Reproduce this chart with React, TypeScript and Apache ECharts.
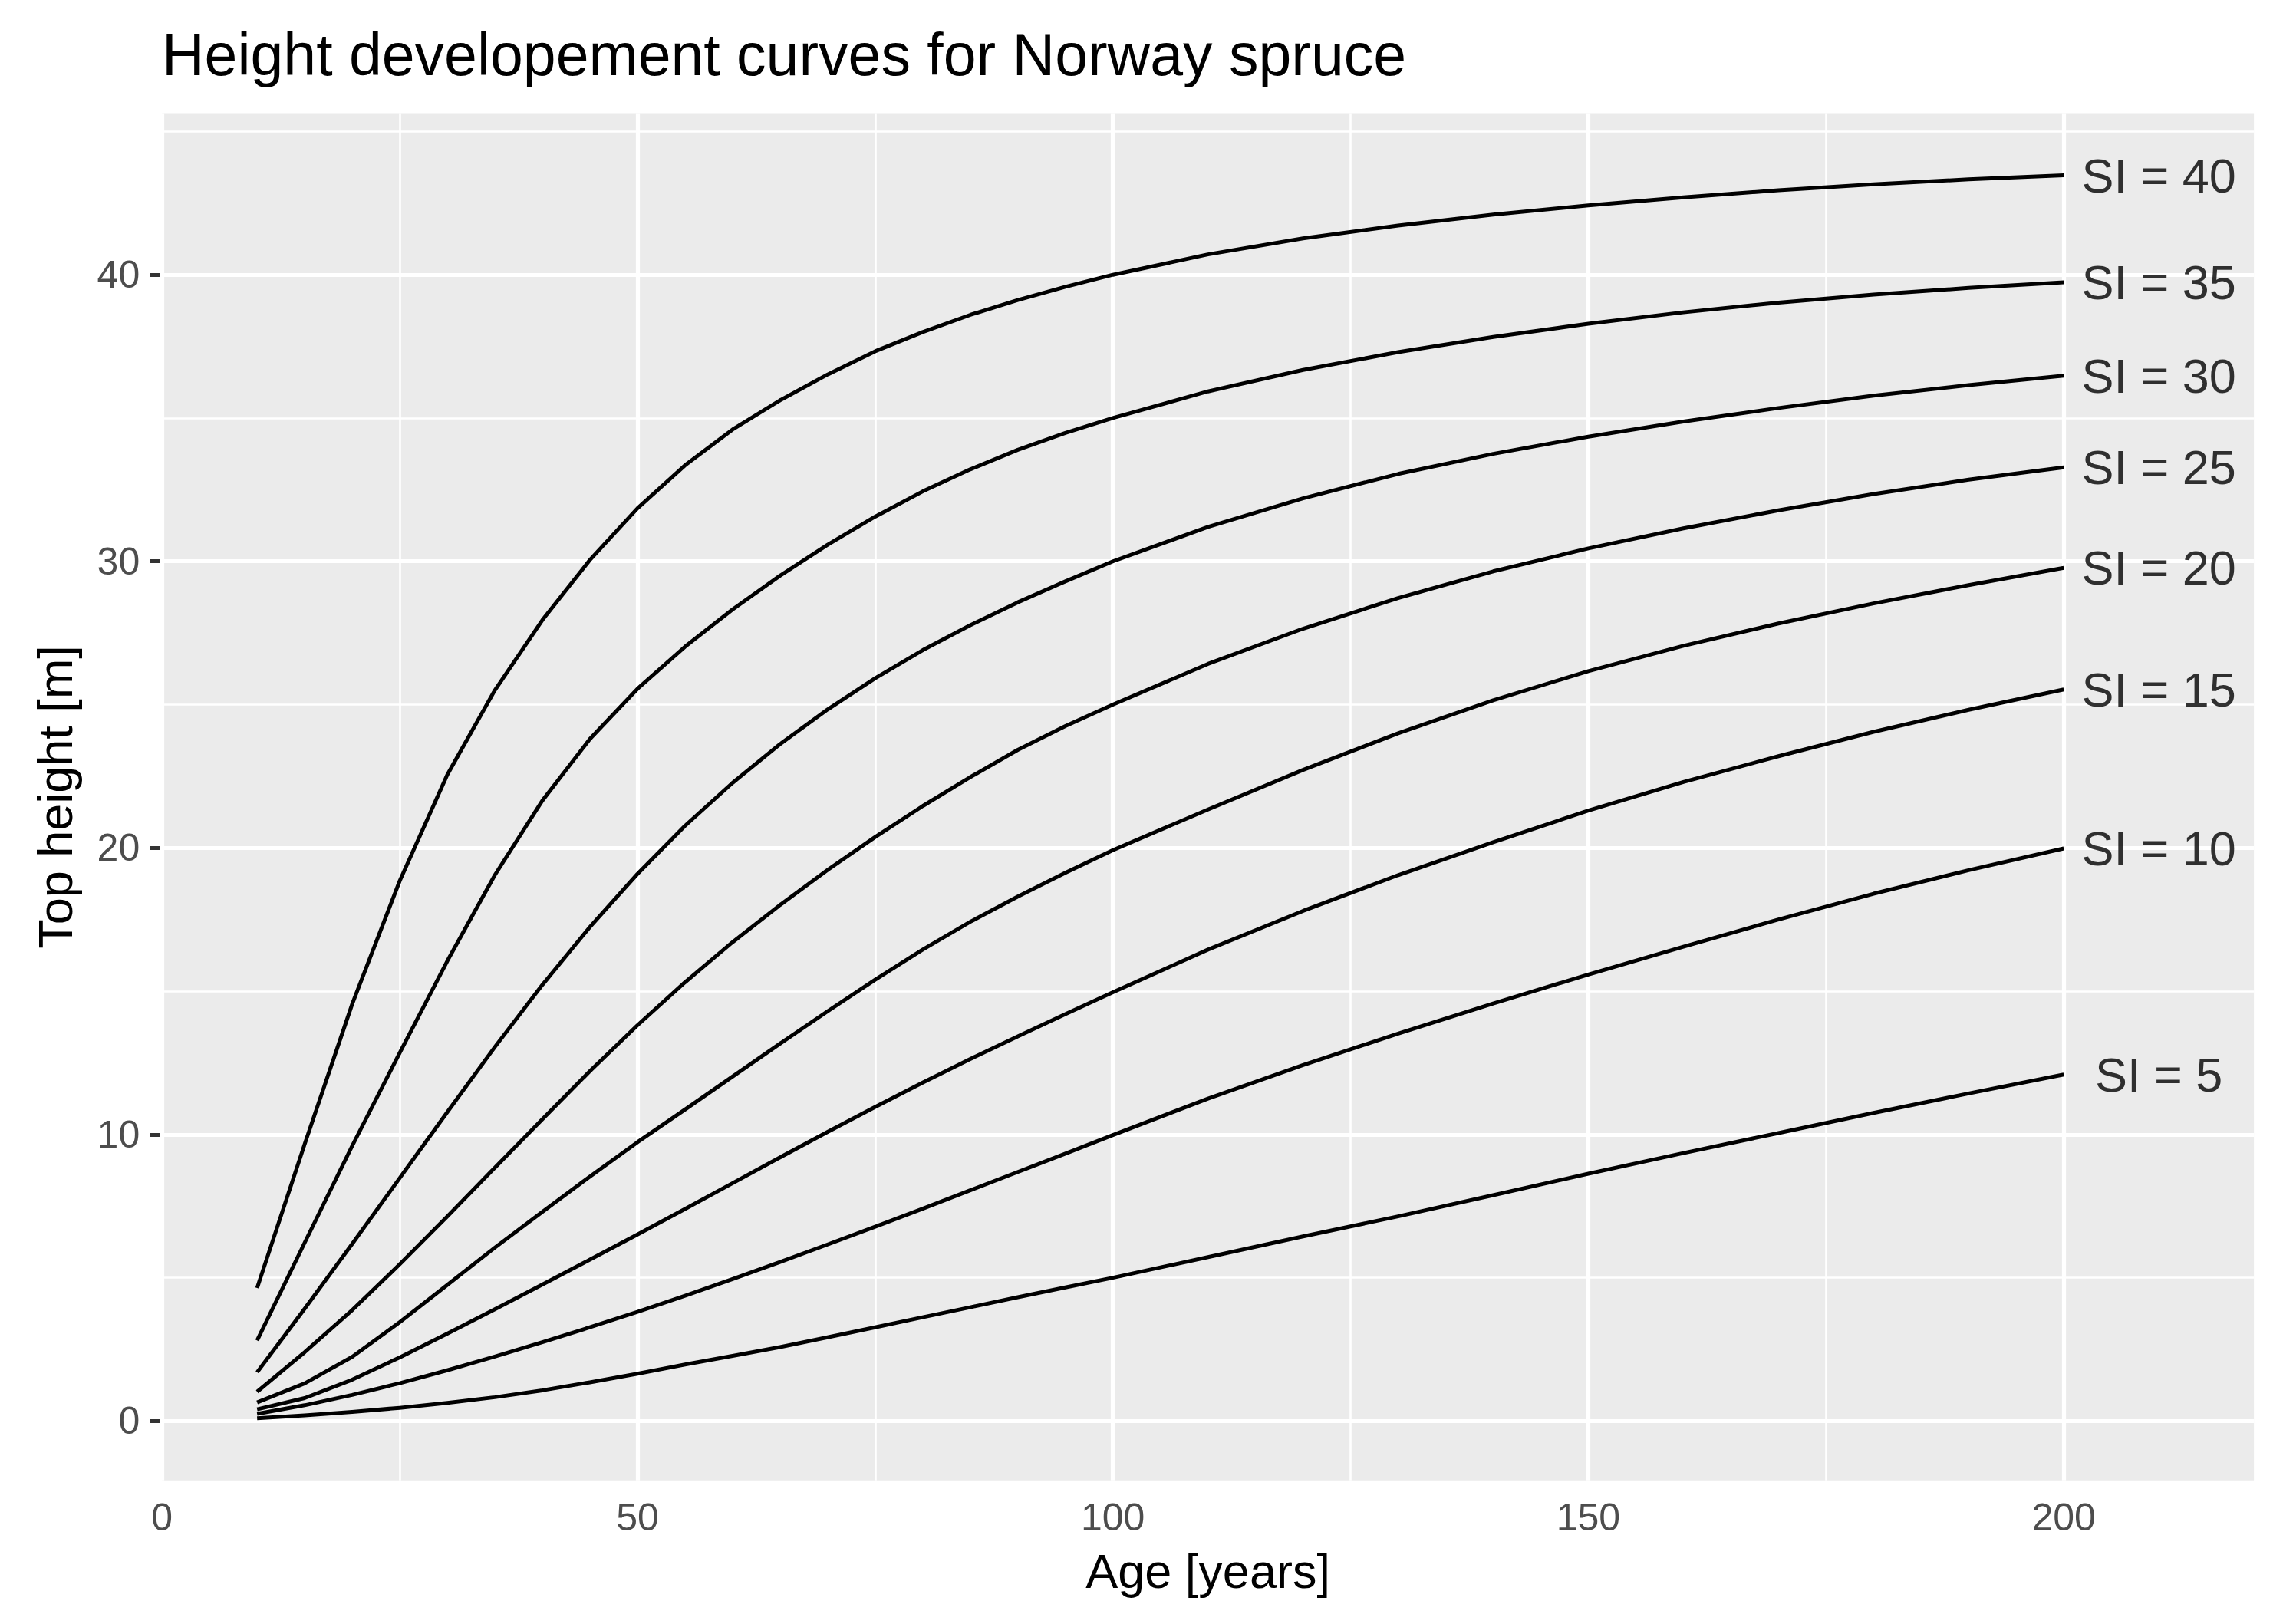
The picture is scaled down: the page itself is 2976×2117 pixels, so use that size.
import React, { useEffect, useRef } from "react";
import * as echarts from "echarts";

// ---- data ----
const ages = [10, 15, 20, 25, 30, 35, 40, 45, 50, 55, 60, 65, 70, 75, 80, 85, 90, 95, 100, 110, 120, 130, 140, 150, 160, 170, 180, 190, 200];
const si40 = [4.64, 9.66, 14.55, 18.85, 22.55, 25.5, 27.95, 30.05, 31.85, 33.35, 34.6, 35.62, 36.52, 37.33, 38.0, 38.6, 39.12, 39.58, 40.0, 40.71, 41.27, 41.72, 42.1, 42.42, 42.7, 42.95, 43.16, 43.33, 43.47];
const si35 = [2.81, 6.22, 9.6, 12.85, 16.05, 19.05, 21.65, 23.8, 25.55, 27.02, 28.32, 29.5, 30.58, 31.56, 32.44, 33.21, 33.89, 34.48, 35.0, 35.93, 36.68, 37.3, 37.83, 38.29, 38.69, 39.03, 39.31, 39.54, 39.74];
const si30 = [1.7, 3.92, 6.18, 8.48, 10.78, 13.05, 15.22, 17.24, 19.09, 20.77, 22.27, 23.62, 24.83, 25.92, 26.9, 27.77, 28.57, 29.3, 30.0, 31.2, 32.2, 33.05, 33.75, 34.35, 34.88, 35.35, 35.78, 36.15, 36.48];
const si25 = [1.02, 2.4, 3.87, 5.47, 7.14, 8.84, 10.53, 12.21, 13.81, 15.31, 16.71, 18.01, 19.23, 20.38, 21.46, 22.47, 23.42, 24.25, 25.0, 26.42, 27.65, 28.72, 29.65, 30.45, 31.15, 31.78, 32.35, 32.85, 33.28];
const si20 = [0.65, 1.31, 2.24, 3.45, 4.75, 6.05, 7.3, 8.53, 9.73, 10.87, 12.02, 13.17, 14.3, 15.4, 16.45, 17.42, 18.3, 19.13, 19.92, 21.34, 22.72, 24.0, 25.15, 26.17, 27.05, 27.83, 28.53, 29.17, 29.77];
const si15 = [0.41, 0.8, 1.44, 2.22, 3.05, 3.9, 4.76, 5.63, 6.51, 7.4, 8.3, 9.2, 10.09, 10.96, 11.81, 12.63, 13.42, 14.2, 14.96, 16.45, 17.8, 19.05, 20.2, 21.3, 22.3, 23.2, 24.05, 24.82, 25.53];
const si10 = [0.25, 0.55, 0.91, 1.32, 1.77, 2.25, 2.75, 3.27, 3.81, 4.37, 4.95, 5.55, 6.16, 6.78, 7.41, 8.05, 8.69, 9.33, 9.98, 11.25, 12.42, 13.52, 14.57, 15.58, 16.55, 17.5, 18.4, 19.22, 19.98];
const si5 = [0.1, 0.2, 0.32, 0.46, 0.63, 0.83, 1.07, 1.35, 1.65, 1.97, 2.27, 2.58, 2.92, 3.27, 3.62, 3.97, 4.32, 4.66, 5.0, 5.72, 6.44, 7.14, 7.88, 8.63, 9.35, 10.05, 10.75, 11.43, 12.09];

const curveNames = ["SI = 40", "SI = 35", "SI = 30", "SI = 25", "SI = 20", "SI = 15", "SI = 10", "SI = 5"];
const curves = [si40, si35, si30, si25, si20, si15, si10, si5];
const labelAge = 210;

const xMajor = [0, 50, 100, 150, 200];
const xMinor = [25, 75, 125, 175];
const yMajor = [0, 10, 20, 30, 40];
const yMinor = [5, 15, 25, 35, 45];

const titleText = "Height developement curves for Norway spruce";
const xTitle = "Age [years]";
const yTitle = "Top height [m]";

const FONT = '"Liberation Sans", Arial, Helvetica, sans-serif';

export default function App() {
  const ref = useRef<HTMLDivElement>(null);

  useEffect(() => {
    document.body.style.margin = "0";
    const chart = echarts.init(ref.current!, null, { renderer: "svg" });

    const gridLines: any[] = [
      ...xMinor.map((v) => ({ xAxis: v, lineStyle: { width: 2.6 } })),
      ...yMinor.map((v) => ({ yAxis: v, lineStyle: { width: 2.6 } })),
      ...xMajor.map((v) => ({ xAxis: v, lineStyle: { width: 5.2 } })),
      ...yMajor.map((v) => ({ yAxis: v, lineStyle: { width: 5.2 } })),
    ];

    const lineSeries = curves.map((vals, k) => ({
      name: curveNames[k],
      type: "line",
      data: ages.map((a, i) => [a, vals[i]]),
      showSymbol: false,
      symbol: "none",
      smooth: false,
      lineStyle: { color: "#000000", width: 5, join: "round" },
      z: 3,
      silent: true,
    }));

    const labelSeries = {
      type: "scatter",
      data: curves.map((vals) => [labelAge, vals[vals.length - 1]]),
      symbolSize: 1,
      itemStyle: { color: "rgba(0,0,0,0)" },
      silent: true,
      z: 4,
      label: {
        show: true,
        position: "inside",
        formatter: (p: any) => curveNames[p.dataIndex],
        fontSize: 63,
        fontFamily: FONT,
        color: "#000000",
        align: "center",
        verticalAlign: "middle",
      },
      markLine: {
        silent: true,
        z: 1,
        symbol: ["none", "none"],
        label: { show: false },
        emphasis: { disabled: true },
        lineStyle: { color: "#FFFFFF", type: "solid", width: 5.2 },
        data: gridLines,
      },
    };

    chart.setOption({
      animation: false,
      grid: {
        left: 211.2,
        right: 37.9,
        top: 147.5,
        bottom: 187.3,
        show: true,
        backgroundColor: "#EBEBEB",
        borderWidth: 0,
        containLabel: false,
      },
      xAxis: {
        type: "value",
        min: 0,
        max: 220,
        splitLine: { show: false },
        axisLine: { show: false },
        axisTick: {
          show: true,
          customValues: xMajor,
          length: 16,
          lineStyle: { color: "#333333", width: 5 },
        },
        axisLabel: {
          customValues: xMajor,
          margin: 48,
          verticalAlign: "middle",
          fontSize: 50,
          fontFamily: FONT,
          color: "#4D4D4D",
        },
      },
      yAxis: {
        type: "value",
        min: -2.07,
        max: 45.64,
        splitLine: { show: false },
        axisLine: { show: false },
        axisTick: {
          show: true,
          customValues: yMajor,
          length: 16,
          lineStyle: { color: "#333333", width: 5 },
        },
        axisLabel: {
          customValues: yMajor,
          margin: 29,
          fontSize: 50,
          fontFamily: FONT,
          color: "#4D4D4D",
        },
      },
      graphic: [
        {
          type: "text",
          x: 211,
          y: 71,
          style: {
            text: titleText,
            fontSize: 77,
            fontFamily: FONT,
            fill: "#000000",
            align: "left",
            verticalAlign: "middle",
          },
        },
        {
          type: "text",
          x: 1574.6,
          y: 2048,
          style: {
            text: xTitle,
            fontSize: 63,
            fontFamily: FONT,
            fill: "#000000",
            align: "center",
            verticalAlign: "middle",
          },
        },
        {
          type: "text",
          x: 72,
          y: 1039,
          rotation: Math.PI / 2,
          style: {
            text: yTitle,
            fontSize: 63,
            fontFamily: FONT,
            fill: "#000000",
            align: "center",
            verticalAlign: "middle",
          },
        },
      ],
      series: [...lineSeries, labelSeries],
    });

    return () => chart.dispose();
  }, []);

  return <div ref={ref} style={{ width: 2976, height: 2117 }} />;
}
